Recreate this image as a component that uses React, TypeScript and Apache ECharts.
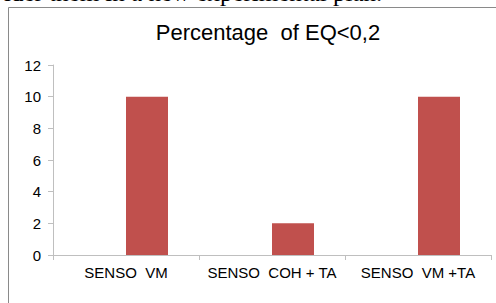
import React, { useEffect, useRef } from "react";
import * as echarts from "echarts";

const categories = ["SENSO  VM", "SENSO  COH + TA", "SENSO  VM +TA"];
const emptySeries = [0, 0, 0];
const percentValues = [10, 2, 10];
const yTicks = { min: 0, max: 12, interval: 2 };
const titleText = "Percentage  of EQ<0,2";
const topText = "ider them in a new experimental plan.";

export default function App() {
  const ref = useRef<HTMLDivElement>(null);
  useEffect(() => {
    document.body.style.margin = "0";
    const chart = echarts.init(ref.current!, null, { renderer: "svg" });
    chart.setOption({
      animation: false,
      backgroundColor: "#ffffff",
      title: {
        text: titleText,
        left: 263,
        top: 16,
        textAlign: "center",
        textStyle: {
          fontFamily: "Liberation Sans, Arial, sans-serif",
          fontSize: 22,
          fontWeight: "normal",
          color: "#000000",
        },
      },
      graphic: [
        {
          type: "rect",
          shape: { x: 8.5, y: 7.5, width: 700, height: 400 },
          style: { fill: "none", stroke: "#8a8a8a", lineWidth: 1 },
          silent: true,
        },
        {
          type: "text",
          x: 4,
          y: -20,
          style: {
            text: topText,
            fontFamily: "Liberation Serif, Times New Roman, serif",
            fontSize: 25,
            lineHeight: 25,
            fill: "#000000",
            verticalAlign: "top",
          },
          silent: true,
        },
      ],
      grid: { left: 53, right: 5, top: 65, bottom: 48, containLabel: false },
      xAxis: {
        type: "category",
        data: categories,
        axisLine: { lineStyle: { color: "#bfbfbf", width: 1 } },
        axisTick: { show: true, alignWithLabel: false, length: 5, lineStyle: { color: "#bfbfbf" } },
        axisLabel: {
          interval: 0,
          fontFamily: "Liberation Sans, Arial, sans-serif",
          fontSize: 15,
          color: "#000000",
          margin: 10,
        },
      },
      yAxis: {
        type: "value",
        min: yTicks.min,
        max: yTicks.max,
        interval: yTicks.interval,
        splitLine: { show: false },
        axisLine: { show: true, lineStyle: { color: "#bfbfbf", width: 1 } },
        axisTick: { show: true, length: 5, lineStyle: { color: "#bfbfbf" } },
        axisLabel: {
          fontFamily: "Liberation Sans, Arial, sans-serif",
          fontSize: 15,
          color: "#000000",
          margin: 12,
        },
      },
      series: [
        {
          type: "bar",
          data: emptySeries,
          barWidth: 42,
          barGap: "0%",
          itemStyle: { color: "#4f81bd" },
        },
        {
          type: "bar",
          data: percentValues,
          barWidth: 42,
          barGap: "0%",
          itemStyle: { color: "#c0504d" },
        },
      ],
    });
    return () => chart.dispose();
  }, []);
  return <div ref={ref} style={{ width: 496, height: 303, position: "absolute", left: 0, top: 0 }} />;
}
